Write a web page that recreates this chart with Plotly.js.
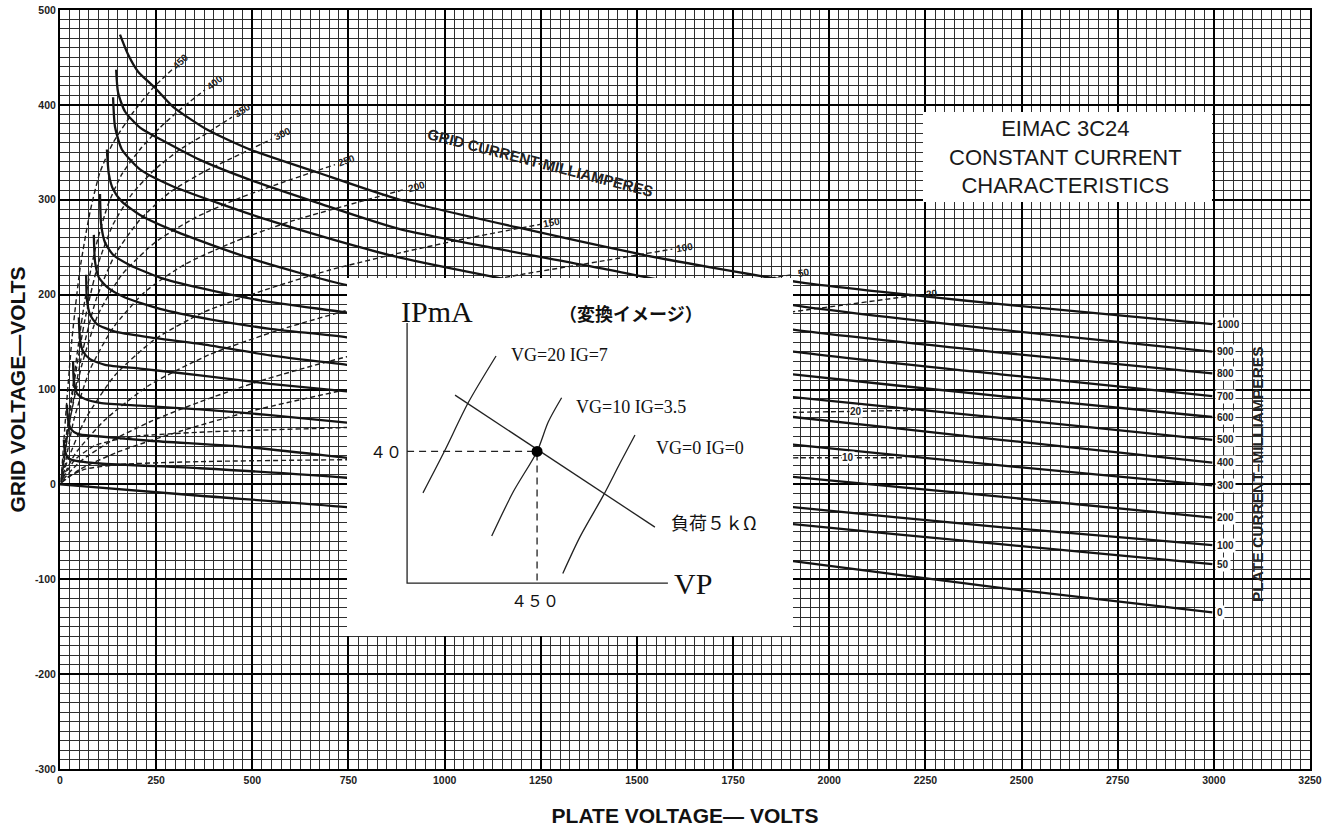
<!DOCTYPE html>
<html>
<head>
<meta charset="utf-8">
<script src="https://cdn.plot.ly/plotly-3.0.1.min.js"></script>
<style>
  html, body { margin: 0; padding: 0; background: #fff; }
  #chart { width: 1335px; height: 834px; }
</style>
</head>
<body>
<div id="chart"></div>
<script>
// ---------- Axis ticks ----------
const plateVoltageTicks = [0, 250, 500, 750, 1000, 1250, 1500, 1750, 2000, 2250, 2500, 2750, 3000, 3250];
const plateVoltageTickText = ['0', '250', '500', '750', '1000', '1250', '1500', '1750', '2000', '2250', '2500', '2750', '3000', '3250'];
const gridVoltageTicks = [-300, -200, -100, 0, 100, 200, 300, 400, 500];
const gridVoltageTickText = ['-300', '-200', '-100', '0', '100', '200', '300', '400', '500'];

// ---------- Constant plate-current curves (plate volts, grid volts) ----------
const plateCurrentLabels = ['1000', '900', '800', '700', '600', '500', '400', '300', '200', '100', '50', '0'];
const ip1000Vp = [156, 177, 203, 247, 294, 382, 494, 668, 884, 1516, 1925, 2445, 2996];
const ip1000Vg = [474, 453, 435, 418, 398, 374, 353, 329, 300, 242, 213, 190, 169];
const ip900Vp = [146, 151, 169, 208, 278, 364, 494, 668, 884, 1404, 1906, 2445, 2996];
const ip900Vg = [437, 413, 393, 376, 360, 342, 321, 297, 269, 228, 189, 163, 140];
const ip800Vp = [138, 143, 161, 208, 294, 408, 538, 710, 884, 1404, 1906, 2445, 2996];
const ip800Vg = [408, 377, 353, 332, 314, 297, 279, 258, 239, 197, 163, 139, 117];
const ip700Vp = [122, 127, 138, 161, 208, 286, 390, 520, 746, 1404, 1906, 2445, 2996];
const ip700Vg = [353, 327, 311, 298, 284, 269, 253, 235, 210, 170, 140, 116, 93];
const ip600Vp = [104, 107, 117, 138, 182, 260, 364, 520, 746, 1404, 1906, 2445, 2996];
const ip600Vg = [306, 274, 255, 242, 231, 218, 207, 194, 181, 142, 116, 93, 71];
const ip500Vp = [88, 91, 101, 125, 169, 260, 390, 546, 746, 1404, 1906, 2445, 2996];
const ip500Vg = [263, 235, 218, 207, 197, 185, 174, 164, 155, 116, 92, 70, 47];
const ip400Vp = [68, 70, 78, 96, 143, 234, 364, 546, 746, 1404, 1906, 2445, 2996];
const ip400Vg = [221, 195, 179, 169, 161, 155, 148, 136, 126, 94, 71, 47, 23];
const ip300Vp = [49, 52, 60, 78, 117, 208, 364, 546, 746, 1404, 1906, 2445, 2996];
const ip300Vg = [176, 153, 140, 132, 126, 122, 115, 106, 98, 67, 42, 20, -1];
const ip200Vp = [34, 36, 44, 65, 104, 208, 364, 546, 746, 1404, 1906, 2445, 2996];
const ip200Vg = [130, 109, 96, 90, 86, 83, 79, 73, 65, 32, 8, -13, -35];
const ip100Vp = [18, 21, 29, 47, 91, 234, 494, 746, 1404, 1906, 2445, 2996];
const ip100Vg = [84, 68, 58, 53, 51, 46, 39, 28, -3, -24, -45, -64];
const ip50Vp = [10, 13, 21, 39, 104, 364, 746, 1404, 1906, 2445, 2996];
const ip50Vg = [47, 35, 28, 25, 22, 17, 7, -21, -42, -63, -84];
const ip0Vp = [0, 364, 746, 1404, 1906, 2445, 2996];
const ip0Vg = [0, -12, -24, -55, -81, -109, -135];

// ---------- Grid-current curves (plate volts, grid volts) ----------
const gridCurrentLabels = ['450', '400', '350', '300', '250', '200', '150', '100', '50', '20', '20', '10'];
const ig450Vp = [3, 16, 31, 52, 78, 104, 138, 190, 242, 291];
const ig450Vg = [5, 79, 153, 227, 287, 329, 360, 392, 418, 437];
const ig400Vp = [3, 16, 39, 65, 94, 125, 161, 208, 260, 312, 377];
const ig400Vg = [3, 47, 121, 195, 252, 295, 327, 353, 376, 395, 416];
const ig350Vp = [3, 10, 34, 65, 99, 138, 187, 247, 312, 377, 447];
const ig350Vg = [2, 32, 100, 174, 232, 274, 306, 332, 353, 369, 387];
const ig300Vp = [5, 26, 57, 94, 143, 208, 286, 377, 468, 551];
const ig300Vg = [11, 68, 137, 195, 242, 279, 308, 330, 348, 364];
const ig250Vp = [5, 26, 57, 99, 161, 247, 351, 468, 598, 715];
const ig250Vg = [7, 68, 126, 179, 221, 255, 281, 302, 321, 337];
const ig200Vp = [8, 36, 78, 138, 221, 325, 455, 598, 754, 897];
const ig200Vg = [9, 68, 121, 165, 203, 232, 256, 277, 295, 311];
const ig150Vp = [3, 16, 65, 143, 247, 377, 533, 702, 884, 1066, 1248];
const ig150Vg = [2, 21, 68, 115, 153, 182, 205, 226, 244, 260, 274];
const ig100Vp = [5, 39, 117, 234, 390, 572, 780, 988, 1196, 1404, 1592];
const ig100Vg = [5, 32, 68, 105, 137, 163, 187, 205, 221, 235, 248];
const ig50Vp = [8, 52, 130, 234, 364, 520, 702, 884, 1144, 1404, 1665, 1904];
const ig50Vg = [5, 24, 45, 66, 87, 109, 130, 148, 169, 188, 206, 221];
const ig20aVp = [5, 52, 156, 312, 494, 746, 1014, 1404, 1906, 2055, 2237];
const ig20aVg = [2, 16, 35, 56, 77, 100, 121, 153, 182, 190, 200];
const ig20bVp = [8, 39, 91, 182, 364, 746, 1404, 1925, 2219];
const ig20bVg = [7, 26, 41, 50, 55, 60, 71, 76, 78];
const ig10Vp = [3, 21, 65, 156, 364, 746, 1404, 1925, 2198];
const ig10Vg = [2, 8, 16, 21, 24, 26, 27, 28, 28];

// ---------- Load-line sketch (plate volts, plate mA) ----------
const sketchAxisVp = [0, 0, 903];
const sketchAxisIp = [79, 0, 0];
const loadLineVp = [166, 858];
const loadLineIp = [57.1, 17.0];
const vg20Vp = [55, 128, 211, 308];
const vg20Ip = [27.4, 39.8, 54.7, 69.0];
const vg10Vp = [293, 368, 450, 489, 535];
const vg10Ip = [14.3, 27.8, 40, 49.0, 56.3];
const vg0Vp = [539, 599, 680, 737, 789];
const vg0Ip = [2.9, 14.1, 26.7, 36.4, 45.0];
const operatingVp = [450];
const operatingIp = [40];

// ---------- Geometry ----------
const W = 1335, H = 834;
const M = { l: 60, r: 25, t: 10, b: 65 };
const X_RANGE = [0, 3250], Y_RANGE = [-300, 500];
const pxPerVp = (W - M.l - M.r) / (X_RANGE[1] - X_RANGE[0]);
const pxPerVg = (H - M.t - M.b) / (Y_RANGE[1] - Y_RANGE[0]);

const INK = '#141414';
const SANS = 'Liberation Sans, Arial, sans-serif';
const SERIF = 'Liberation Serif, Times New Roman, serif';
const CJK = 'Noto Sans CJK JP, sans-serif';

const plateCurves = [
  [ip1000Vp, ip1000Vg], [ip900Vp, ip900Vg], [ip800Vp, ip800Vg], [ip700Vp, ip700Vg],
  [ip600Vp, ip600Vg], [ip500Vp, ip500Vg], [ip400Vp, ip400Vg], [ip300Vp, ip300Vg],
  [ip200Vp, ip200Vg], [ip100Vp, ip100Vg], [ip50Vp, ip50Vg], [ip0Vp, ip0Vg]
].map((c, i) => ({ vp: c[0], vg: c[1], label: plateCurrentLabels[i] }));

const gridCurves = [
  [ig450Vp, ig450Vg], [ig400Vp, ig400Vg], [ig350Vp, ig350Vg], [ig300Vp, ig300Vg],
  [ig250Vp, ig250Vg], [ig200Vp, ig200Vg], [ig150Vp, ig150Vg], [ig100Vp, ig100Vg],
  [ig50Vp, ig50Vg], [ig20aVp, ig20aVg], [ig20bVp, ig20bVg], [ig10Vp, ig10Vg]
].map((c, i) => ({ vp: c[0], vg: c[1], label: gridCurrentLabels[i], inline: i >= 10 }));

const traces = [];
const annotations = [];
const labelFont = { family: SANS, size: 10, color: '#222', weight: 'bold' };

gridCurves.forEach(c => {
  traces.push({
    x: c.vp, y: c.vg, type: 'scatter', mode: 'lines',
    line: { color: '#1c1c1c', width: 1.4, dash: '5px,3px', shape: 'spline', smoothing: 0.6 },
    hoverinfo: 'skip', showlegend: false
  });
});

plateCurves.forEach(c => {
  traces.push({
    x: c.vp, y: c.vg, type: 'scatter', mode: 'lines',
    line: { color: INK, width: 2.3, shape: 'spline', smoothing: 0.6 },
    hoverinfo: 'skip', showlegend: false
  });
  const n = c.vp.length;
  annotations.push({
    x: c.vp[n - 1], y: c.vg[n - 1], xref: 'x', yref: 'y',
    text: c.label, showarrow: false, xanchor: 'left', yanchor: 'middle', xshift: 3,
    bgcolor: '#fff', borderpad: 1,
    font: { family: SANS, size: 10, color: '#222', weight: 'bold' }
  });
});

// grid-current labels follow the direction of their curve
gridCurves.forEach(c => {
  const n = c.vp.length;
  if (c.inline) {
    // label sits on the line a little before its end
    const vpL = c.vp[n - 1] - 150;
    let k = 1;
    while (k < n - 1 && c.vp[k] < vpL) k++;
    const t = (vpL - c.vp[k - 1]) / (c.vp[k] - c.vp[k - 1]);
    const vgL = c.vg[k - 1] + t * (c.vg[k] - c.vg[k - 1]);
    annotations.push({
      x: vpL, y: vgL, xref: 'x', yref: 'y', text: c.label, showarrow: false,
      xanchor: 'center', yanchor: 'middle', bgcolor: '#fff', borderpad: 0, font: labelFont
    });
    return;
  }
  const ux = (c.vp[n - 1] - c.vp[n - 2]) * pxPerVp;
  const uy = (c.vg[n - 1] - c.vg[n - 2]) * pxPerVg;
  const L = Math.hypot(ux, uy);
  annotations.push({
    x: c.vp[n - 1], y: c.vg[n - 1], xref: 'x', yref: 'y', text: c.label, showarrow: false,
    xanchor: 'center', yanchor: 'middle',
    textangle: -Math.atan2(uy, ux) * 180 / Math.PI,
    xshift: 12 * ux / L, yshift: 12 * uy / L, font: labelFont
  });
});

// ---------- Load-line sketch traces ----------
const sk = { xaxis: 'x2', yaxis: 'y2', type: 'scatter', mode: 'lines', hoverinfo: 'skip', showlegend: false };
traces.push(Object.assign({}, sk, { x: sketchAxisVp, y: sketchAxisIp, line: { color: '#222', width: 1.3 } }));
traces.push(Object.assign({}, sk, {
  x: [0, operatingVp[0], operatingVp[0]], y: [operatingIp[0], operatingIp[0], 0],
  line: { color: '#222', width: 1.3, dash: '7px,5px' }
}));
traces.push(Object.assign({}, sk, { x: loadLineVp, y: loadLineIp, line: { color: '#222', width: 1.3 } }));
[[vg20Vp, vg20Ip], [vg10Vp, vg10Ip], [vg0Vp, vg0Ip]].forEach(c => {
  traces.push(Object.assign({}, sk, { x: c[0], y: c[1], line: { color: '#222', width: 1.3, shape: 'spline', smoothing: 0.8 } }));
});
traces.push(Object.assign({}, sk, { x: operatingVp, y: operatingIp, mode: 'markers', marker: { color: '#000', size: 11 } }));

// ---------- Sketch text ----------
const skA = (x, y, text, font) => ({
  x, y, xref: 'x2', yref: 'y2', text, showarrow: false, xanchor: 'center', yanchor: 'middle', font
});
annotations.push(skA(104, 82.4, 'IPmA', { family: SERIF, size: 30, color: '#111' }));
annotations.push(skA(775, 82, '（変換イメージ）', { family: CJK, size: 18, color: '#111', weight: 'bold' }));
annotations.push(skA(526, 69.3, 'VG=20 IG=7', { family: SERIF, size: 18, color: '#111' }));
annotations.push(skA(775, 53.5, 'VG=10 IG=3.5', { family: SERIF, size: 18, color: '#111' }));
annotations.push(skA(1014, 41, 'VG=0 IG=0', { family: SERIF, size: 18, color: '#111' }));
annotations.push(skA(1063, 18.5, '負荷５ｋΩ', { family: CJK, size: 18, color: '#111' }));
annotations.push(skA(990, 0, 'VP', { family: SERIF, size: 30, color: '#111' }));
annotations.push(skA(-73, operatingIp[0], '４０', { family: CJK, size: 16, color: '#111' }));
annotations.push(skA(operatingVp[0] - 7, -5.2, '４５０', { family: CJK, size: 16, color: '#111' }));

// ---------- Chart captions ----------
annotations.push({
  x: 1248, y: 339, xref: 'x', yref: 'y', text: 'GRID CURRENT-MILLIAMPERES', showarrow: false,
  xanchor: 'center', yanchor: 'middle',
  textangle: 14.5, font: { family: SANS, size: 15, color: '#222', weight: 'bold' }
});
annotations.push({
  x: 0.9584, y: 0.3874, xref: 'paper', yref: 'paper', text: 'PLATE CURRENT–MILLIAMPERES', showarrow: false,
  xanchor: 'center', yanchor: 'middle',
  textangle: -90, font: { family: SANS, size: 15.5, color: '#222', weight: 'bold' }
});
// title block
annotations.push({
  x: 0.804, y: 0.8063, xref: 'paper', yref: 'paper', showarrow: false,
  xanchor: 'center', yanchor: 'middle', align: 'center',
  text: 'EIMAC 3C24<br>CONSTANT CURRENT<br>CHARACTERISTICS',
  font: { family: SANS, size: 22, color: '#1a1a1a' }
});

const shapes = [{
  type: 'rect', xref: 'paper', yref: 'paper', x0: 0.6904, x1: 0.9216, y0: 0.747, y1: 0.8656,
  fillcolor: '#fff', line: { width: 0 }, layer: 'above'
}];

const tickFont = { family: SANS, size: 10.5, color: '#222', weight: 'bold' };
const titleFont = { family: SANS, size: 21, color: '#111', weight: 'bold' };

const layout = {
  width: W, height: H, autosize: false,
  margin: M,
  paper_bgcolor: '#fff', plot_bgcolor: '#fff',
  showlegend: false, hovermode: false,
  xaxis: {
    range: X_RANGE, tickmode: 'array', tickvals: plateVoltageTicks, ticktext: plateVoltageTickText,
    tickfont: tickFont, ticks: '', showgrid: true, gridcolor: '#000', gridwidth: 2,
    minor: { dtick: 25, tick0: 0, showgrid: true, gridcolor: '#2e2e2e', gridwidth: 1, ticks: '' },
    zeroline: false, showline: true, linecolor: '#000', linewidth: 2, mirror: true,
    title: { text: 'PLATE VOLTAGE— VOLTS', font: titleFont, standoff: 24 },
    fixedrange: true, automargin: false
  },
  yaxis: {
    range: Y_RANGE, tickmode: 'array', tickvals: gridVoltageTicks, ticktext: gridVoltageTickText,
    tickfont: tickFont, ticks: '', showgrid: true, gridcolor: '#000', gridwidth: 2,
    minor: { dtick: 10, tick0: 0, showgrid: true, gridcolor: '#2e2e2e', gridwidth: 1, ticks: '' },
    zeroline: false, showline: true, linecolor: '#000', linewidth: 2, mirror: true,
    title: { text: 'GRID VOLTAGE—VOLTS', font: titleFont, standoff: 4 },
    fixedrange: true, automargin: false
  },
  xaxis2: {
    domain: [0.2296, 0.5864], range: [-208, 1336], anchor: 'y2',
    showgrid: false, zeroline: false, showticklabels: false, showline: false, ticks: '', fixedrange: true
  },
  yaxis2: {
    domain: [0.1752, 0.6469], range: [-16.1, 92.7], anchor: 'x2',
    showgrid: false, zeroline: false, showticklabels: false, showline: false, ticks: '', fixedrange: true
  },
  annotations, shapes
};

Plotly.newPlot('chart', traces, layout, { staticPlot: true, displayModeBar: false });
</script>
</body>
</html>
